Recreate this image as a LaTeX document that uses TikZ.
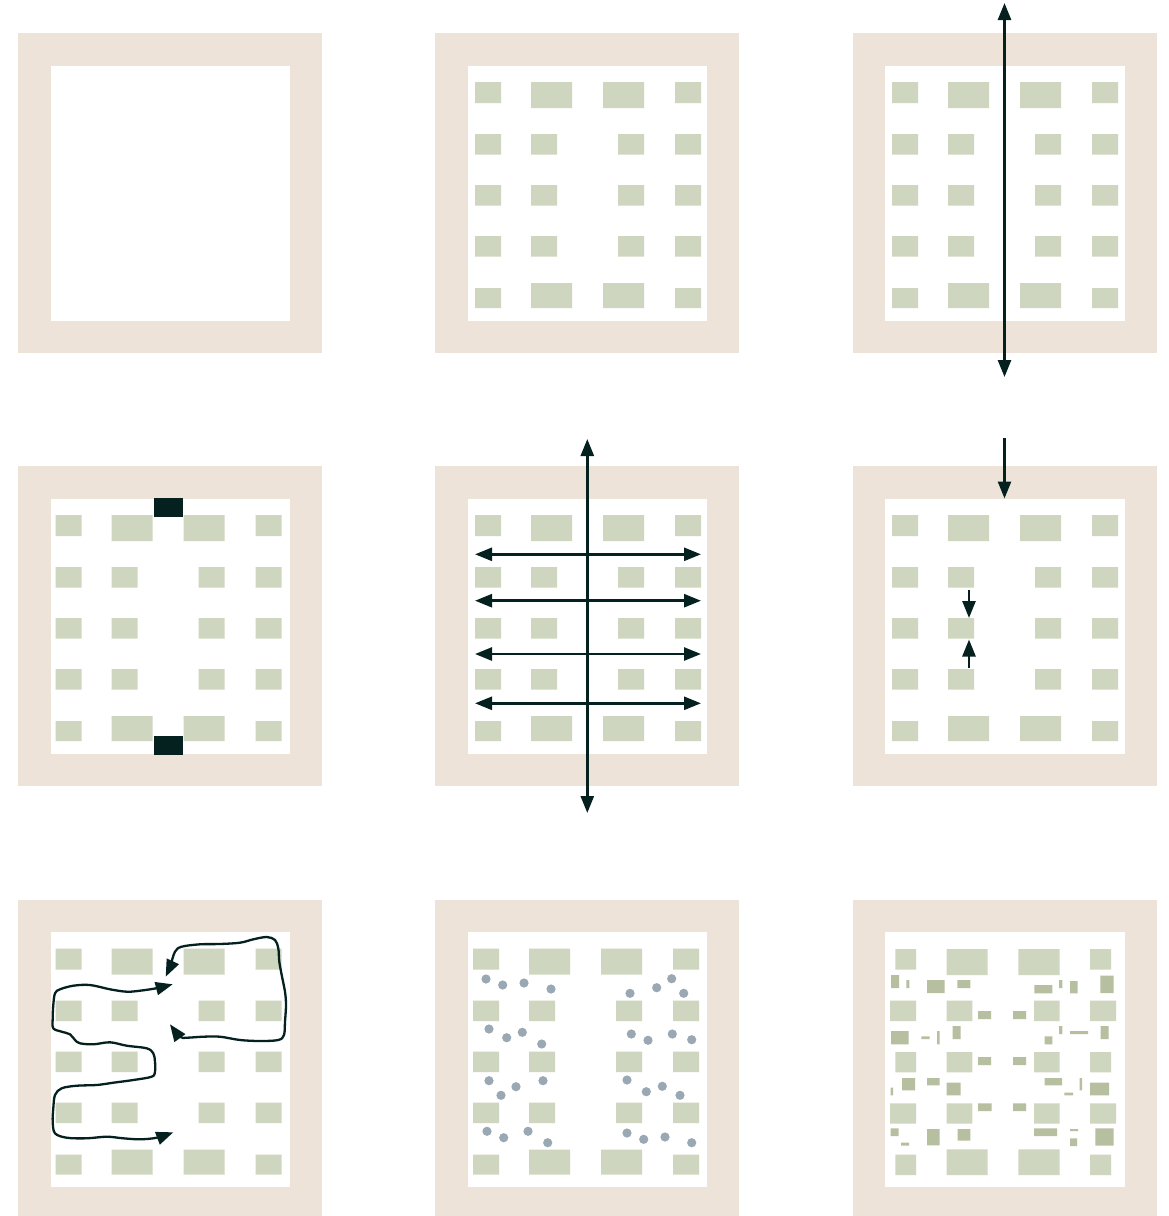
\documentclass[tikz,border=0pt]{standalone}
\usetikzlibrary{arrows.meta}
\definecolor{beige}{HTML}{EDE3D8}
\definecolor{sage}{HTML}{CFD6BF}
\definecolor{sagedark}{HTML}{B6BF9F}
\definecolor{ink}{HTML}{04201F}
\definecolor{dotc}{HTML}{9AA8B4}
\begin{document}
\begin{tikzpicture}[x=1pt,y=-1pt,
  blk/.style={fill=sage},
  dblk/.style={fill=sagedark},
  dot/.style={fill=dotc},
  tip/.tip={Triangle[length=17pt,width=13pt]},
  arr/.style={draw=ink,line width=2.6pt,-tip},
  darr/.style={draw=ink,line width=2.6pt,tip-tip},
  wav/.style={draw=ink,line width=2.3pt,tip-tip,line join=round},
  panel/.pic={\fill[beige] (0,0) rectangle (304,320);
              \fill[white] (32.5,32.5) rectangle (272,287.5);},
  grid/.pic={
    \fill[blk] (40,49) rectangle (66,70) (96,49) rectangle (137,75)
               (168,49) rectangle (209,75) (240,49) rectangle (266,70);
    \foreach \yy in {101,152,203}
      \fill[blk] (40,\yy) rectangle +(26,20.5) (96,\yy) rectangle +(26,20.5)
                 (183,\yy) rectangle +(26,20.5) (240,\yy) rectangle +(26,20.5);
    \fill[blk] (40,255) rectangle (66,275) (96,250) rectangle (137,275)
               (168,250) rectangle (209,275) (240,255) rectangle (266,275);}
]
\useasboundingbox (0,0) rectangle (1169,1216);
\clip (0,0) rectangle (1169,1216);

% ---------- row 1 ----------
\pic at (18,33) {panel};
\pic at (435,33) {panel};
\pic at (435,33) {grid};
\pic at (852.5,33) {panel};
\pic at (852,33) {grid};
\coordinate (p3top) at (1004.5,3);
\coordinate (p3bot) at (1004.5,377);
\draw[darr] (p3top) -- (p3bot);

% ---------- row 2 ----------
\pic at (18,466) {panel};
\pic at (15.5,466) {grid};
\fill[ink] (154,498.3) rectangle (183,516.7);
\fill[ink] (154,736) rectangle (183,754.7);

\pic at (435,466) {panel};
\pic at (435,466) {grid};
\coordinate (p5top) at (587.3,439);
\coordinate (p5bot) at (587.3,813);
\foreach \yy/\nm in {554.3/a,600.7/b,654/c,703.3/d}{
  \coordinate (h\nm l) at (475,\yy);
  \coordinate (h\nm r) at (701,\yy);
  \draw[darr] (h\nm l) -- (h\nm r);
}
\draw[darr] (p5top) -- (p5bot);

\pic at (852.5,466) {panel};
\pic at (852,466) {grid};
\coordinate (p6s) at (1004.5,438);
\coordinate (p6e) at (1004.5,498.5);
\draw[arr] (p6s) -- (p6e);
\coordinate (s1s) at (969,590);
\coordinate (s1e) at (969,618);
\coordinate (s2s) at (969,667.5);
\coordinate (s2e) at (969,639.5);
\draw[arr] (s1s) -- (s1e);
\draw[arr] (s2s) -- (s2e);

% ---------- row 3 ----------
\pic at (18,899.5) {panel};
\pic at (15.5,899.5) {grid};
\draw[wav] plot[smooth,tension=0.55] coordinates {
 (172.7,984.3) (156,988.3) (140,990.7) (126.7,991.7) (110,989.3) (90,985)
 (73.3,985.7) (60,989.3) (55,993.3) (53.3,1005) (52.7,1018.3) (53.3,1028.3)
 (61.7,1031.7) (70,1034.3) (75,1040) (80,1043.3) (93.3,1044.3) (110,1042.3)
 (126.7,1045.7) (146.7,1048.3) (153.3,1053.3) (155,1061.7) (155,1071.7)
 (151.7,1076.7) (133.3,1080) (113.3,1082.7) (96.7,1085) (76.7,1085.7)
 (61.7,1088.3) (55,1095) (53.3,1108.3) (52.7,1121.7) (55,1133.3) (66.7,1137.7)
 (86.7,1138.3) (106.7,1136.7) (123.3,1138.3) (140,1139.3) (156.7,1137.7)
 (173.3,1132.3)};
\draw[wav] plot[smooth,tension=0.55] coordinates {
 (165.7,976.7) (170,966.7) (175,951.7) (181.7,946.7) (200,944.3) (220,944)
 (240,942.7) (253.3,939.3) (266.7,937) (275,940) (278.3,948.3) (279.3,961.7)
 (281.7,975) (285,991.7) (286,1005) (285,1021.7) (284,1035) (278.3,1040)
 (260,1041) (240,1040) (220,1036.7) (203.3,1036.7) (186.7,1037.7) (180,1036.7)
 (170,1024.3)};

\pic at (435,899.5) {panel};
\pic at (433,899.5) {grid};
\foreach \px/\py in {486/979,502.7/985,524/983,551/989,
  489/1029,506.7/1037.7,522.3/1032.3,541.7/1044,
  489/1080.7,501/1095.3,516/1086.7,543/1080.7,
  487/1131.3,503.7/1137.7,528/1131.3,547.7/1142.7,
  630/993.3,656.7/987.7,671.7/978.7,683.7/993.3,
  631.3/1034,648/1040.3,672.3/1034,691.7/1039.7,
  627/1080,646.3/1091.7,662.3/1086.3,680/1095.3,
  627/1133,643.7/1139.3,665/1137,691.7/1142.7}
  \fill[dot] (\px,\py) circle[radius=4.6pt];

\pic at (852.5,899.5) {panel};
% light blocks
\fill[blk]
 (895.3,949) rectangle (916,969.7) (946.7,949) rectangle (987.7,975)
 (1018.3,949) rectangle (1059.7,975) (1090,949) rectangle (1111,969.7)
 (890,1000.7) rectangle (916,1021) (946.7,1000.7) rectangle (972.3,1021)
 (1034,1000.7) rectangle (1059.7,1021) (1090,1000.7) rectangle (1116,1021)
 (895.3,1052) rectangle (916,1072.3) (946.7,1052) rectangle (972.3,1072.3)
 (1034,1052) rectangle (1059.7,1072.3) (1090,1052) rectangle (1111,1072.3)
 (890,1103.3) rectangle (916,1123.7) (946.7,1103.3) rectangle (972.3,1123.7)
 (1034,1103.3) rectangle (1059.7,1123.7) (1090,1103.3) rectangle (1116,1123.7)
 (895.3,1154.7) rectangle (916,1175) (946.7,1149.3) rectangle (987.7,1175)
 (1018.3,1149.3) rectangle (1059.7,1175) (1090,1154.7) rectangle (1111,1175);
% darker fragments
\fill[dblk]
 (891,975) rectangle (899,988) (906.3,980) rectangle (909.3,988)
 (927,980) rectangle (944.7,993) (957.3,980) rectangle (970.3,988)
 (1034.3,985) rectangle (1052.3,993.3) (1059,980) rectangle (1062.3,988)
 (1070,981) rectangle (1077.7,993.3) (1100.3,975.7) rectangle (1113.7,993)
 (978,1011) rectangle (991,1019) (1013,1011) rectangle (1026,1019)
 (891,1031) rectangle (908.7,1044.3) (921.3,1036.3) rectangle (929.7,1039)
 (937,1031) rectangle (939.7,1044.3) (952.7,1026) rectangle (960.7,1039)
 (1044.7,1036.3) rectangle (1052.3,1044.3) (1059,1026) rectangle (1062.3,1034)
 (1070,1031) rectangle (1088,1034) (1100.7,1026) rectangle (1108.7,1039)
 (978,1057) rectangle (991,1065) (1013,1057) rectangle (1026,1065)
 (890.7,1087.7) rectangle (893,1095.3) (902,1078) rectangle (915,1090.3)
 (927,1078) rectangle (939.7,1085.3) (946.7,1082.7) rectangle (960.7,1095.3)
 (1044.7,1078) rectangle (1062,1085.3) (1064.3,1092.7) rectangle (1073,1095.3)
 (1079.7,1078) rectangle (1082,1090.3) (1090,1082.7) rectangle (1109,1095.3)
 (978,1103.3) rectangle (991.7,1111) (1013,1103.3) rectangle (1026,1111)
 (890.7,1128.3) rectangle (898.7,1136) (901,1142.7) rectangle (909,1145.7)
 (927,1129) rectangle (939.7,1145.3) (957.7,1129) rectangle (970.3,1140.7)
 (1034,1128.3) rectangle (1057,1136) (1070,1129) rectangle (1078,1131)
 (1070,1138.3) rectangle (1077,1146) (1095.3,1128.3) rectangle (1113.7,1145.7);
\end{tikzpicture}
\end{document}
